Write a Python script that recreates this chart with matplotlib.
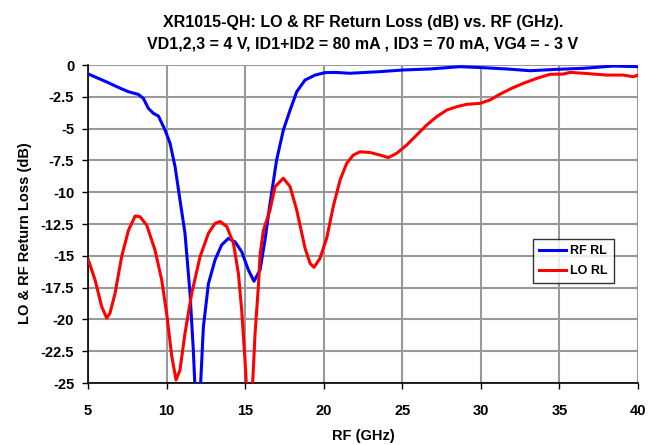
import numpy as np
import matplotlib
matplotlib.use('Agg')
import matplotlib.pyplot as plt

plt.rcParams['font.family'] = ['Liberation Sans', 'DejaVu Sans']

# RF return loss (GHz, dB)
rf_x = [5.02, 5.66, 6.29, 6.93, 7.57, 8.2, 8.52, 8.84, 9.16, 9.48, 9.9, 10.22, 10.54,
        10.85, 11.17, 11.49, 11.7, 11.9, 12.05, 12.34, 12.66, 13.08, 13.5, 13.93, 14.35,
        14.78, 15.2, 15.56, 15.95, 16.26, 16.58, 17.0, 17.43, 17.86, 18.28, 18.81, 19.45,
        20.08, 20.72, 21.67, 23.58, 25.07, 26.76, 28.67, 30.15, 31.64, 33.13, 34.83,
        36.52, 38.43, 40.0]
rf_y = [-0.71, -1.05, -1.39, -1.76, -2.1, -2.31, -2.62, -3.41, -3.8, -4.01, -5.11, -6.16, -8.0,
        -10.6, -13.23, -17.95, -22.4, -28.0, -28.0, -20.6, -17.2, -15.33, -14.15, -13.63, -13.9,
        -14.68, -16.1, -17.0, -16.1, -13.76, -10.9, -7.47, -5.11, -3.54, -2.1, -1.18, -0.79,
        -0.6, -0.58, -0.65, -0.52, -0.39, -0.31, -0.13, -0.21, -0.31, -0.45, -0.34,
        -0.26, -0.08, -0.13]

# LO return loss (GHz, dB)
lo_x = [5.02, 5.45, 5.87, 6.19, 6.4, 6.72, 7.14, 7.57, 8.0, 8.31, 8.73, 9.26, 9.69, 10.0,
        10.33, 10.6, 10.85, 11.17, 11.6, 12.13, 12.66, 13.08, 13.4, 13.83, 14.25, 14.57,
        14.78, 14.99, 15.2, 15.36, 15.63, 15.84, 15.95, 16.16, 16.58, 16.9, 17.43, 17.86,
        18.28, 18.81, 19.13, 19.38, 19.76, 20.19, 20.61, 21.04, 21.46, 21.88, 22.31, 22.95,
        23.58, 24.11, 24.64, 25.28, 25.7, 26.55, 27.19, 27.83, 28.46, 29.1, 29.95, 30.58,
        31.2, 31.96, 32.7, 33.55, 34.4, 35.25, 35.67, 36.52, 38.0, 39.06, 39.7, 40.0]
lo_y = [-15.33, -16.9, -19.0, -19.9, -19.5, -17.95, -15.07, -13.0, -11.87, -11.93, -12.58,
        -14.54, -16.9, -19.5, -22.9, -24.76, -23.98, -21.1, -17.95, -15.07, -13.23, -12.45,
        -12.3, -12.7, -14.0, -16.4, -19.3, -23.2, -28.0, -28.0, -21.1, -17.4, -14.9, -13.0,
        -11.4, -9.57, -8.9, -9.57, -11.4, -14.4, -15.6, -15.9, -15.2, -13.6, -11.1, -9.04,
        -7.73, -7.08, -6.82, -6.88, -7.08, -7.28, -6.94, -6.29, -5.77, -4.72, -4.06, -3.54,
        -3.28, -3.09, -3.01, -2.75, -2.3, -1.83, -1.44, -1.05, -0.73, -0.71, -0.58, -0.65,
        -0.79, -0.79, -0.92, -0.79]

x_ticks = [5, 10, 15, 20, 25, 30, 35, 40]
y_ticks = [0, -2.5, -5, -7.5, -10, -12.5, -15, -17.5, -20, -22.5, -25]
y_labels = ['0', '-2.5', '-5', '-7.5', '-10', '-12.5', '-15', '-17.5', '-20', '-22.5', '-25']

fig = plt.figure(figsize=(6.55, 4.45), dpi=100)
ax = fig.add_axes([0.1344, 0.1393, 0.8397, 0.7146])

ax.plot(rf_x, rf_y, color='#0000ff', linewidth=2.2, label='RF RL', zorder=3)
ax.plot(lo_x, lo_y, color='#ff0000', linewidth=2.2, label='LO RL', zorder=3)

ax.set_xlim(5, 40)
ax.set_ylim(-25, 0)
ax.set_xticks(x_ticks)
ax.set_xticklabels([str(t) for t in x_ticks], fontsize=10.5, fontweight='bold')
ax.set_yticks(y_ticks)
ax.set_yticklabels(y_labels, fontsize=10.5, fontweight='bold')
ax.grid(True, color='#999999', linewidth=1.5)
ax.set_axisbelow(True)
for s in ['top', 'right']:
    ax.spines[s].set_visible(False)
for s in ['left', 'bottom']:
    ax.spines[s].set_color('black')
    ax.spines[s].set_linewidth(1.2)
ax.tick_params(direction='out', length=4, width=1, pad=6)
ax.tick_params(axis='x', pad=11)

ax.set_xlabel('RF (GHz)', fontsize=10.5, fontweight='bold', labelpad=8)
ax.set_ylabel('LO & RF Return Loss (dB)', fontsize=10.5, fontweight='bold')
ax.yaxis.set_label_coords(-0.102, 0.472)
ax.set_title('XR1015-QH: LO & RF Return Loss (dB) vs. RF (GHz).\n'
             'VD1,2,3 = 4 V, ID1+ID2 = 80 mA , ID3 = 70 mA, VG4 = - 3 V',
             fontsize=11.5, fontweight='bold', pad=12, linespacing=1.55)

leg = ax.legend(loc='upper left', bbox_to_anchor=(0.797, 0.472), fontsize=9,
                frameon=True, fancybox=False, edgecolor='black', handlelength=2.2,
                borderpad=0.5, labelspacing=0.6, handletextpad=0.3)
leg.get_frame().set_linewidth(1.0)
for t in leg.get_texts():
    t.set_fontweight('bold')

fig.savefig('out.png', dpi=100, facecolor='white')
